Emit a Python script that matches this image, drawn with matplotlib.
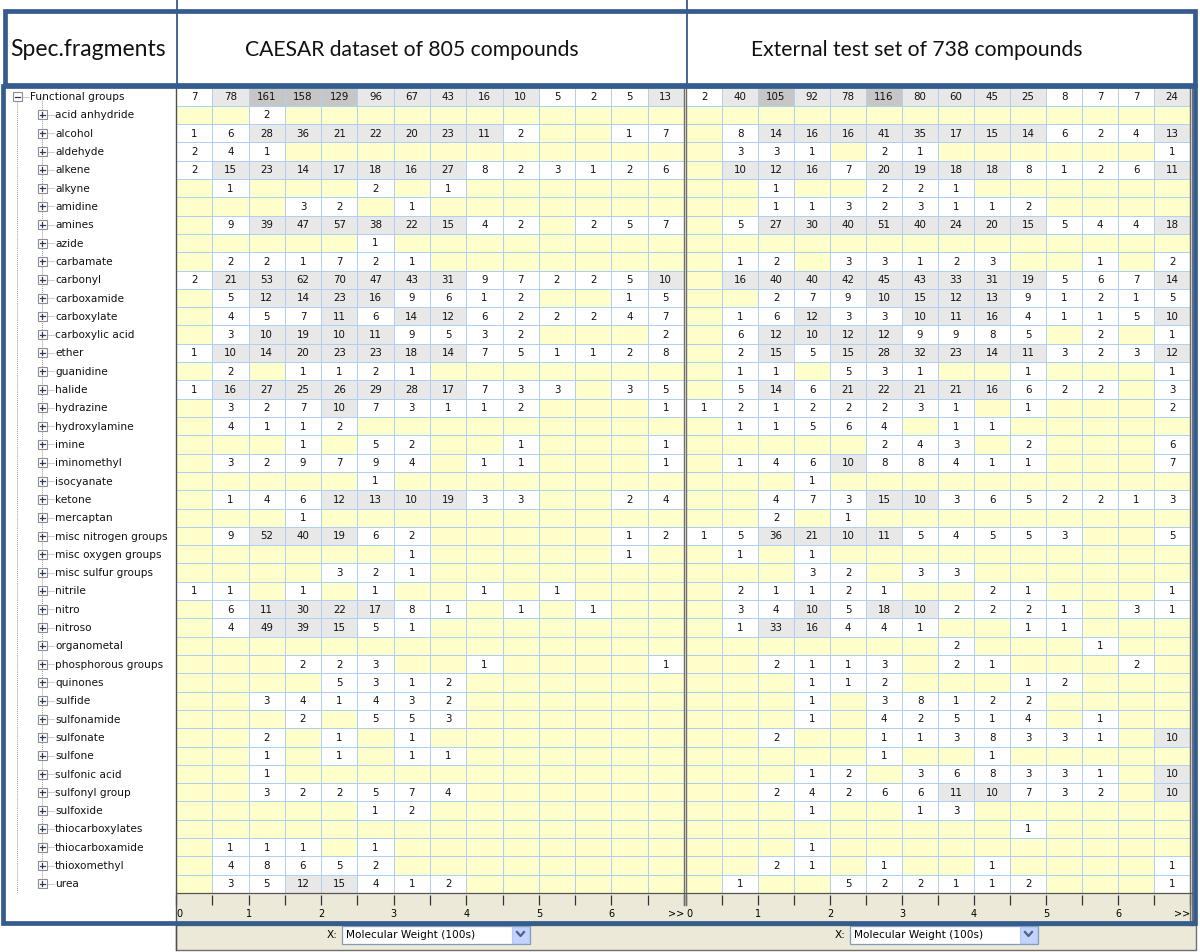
import numpy as np
import matplotlib
matplotlib.use("Agg")
import matplotlib.pyplot as plt
from matplotlib.colors import ListedColormap
from matplotlib.patches import Rectangle

# ---------------- data ----------------
groups = ["Functional groups", "acid anhydride", "alcohol", "aldehyde", "alkene", "alkyne",
          "amidine", "amines", "azide", "carbamate", "carbonyl", "carboxamide", "carboxylate",
          "carboxylic acid", "ether", "guanidine", "halide", "hydrazine", "hydroxylamine",
          "imine", "iminomethyl", "isocyanate", "ketone", "mercaptan", "misc nitrogen groups",
          "misc oxygen groups", "misc sulfur groups", "nitrile", "nitro", "nitroso",
          "organometal", "phosphorous groups", "quinones", "sulfide", "sulfonamide",
          "sulfonate", "sulfone", "sulfonic acid", "sulfonyl group", "sulfoxide",
          "thiocarboxylates", "thiocarboxamide", "thioxomethyl", "urea"]

caesar = [
    [7, 78, 161, 158, 129, 96, 67, 43, 16, 10, 5, 2, 5, 13],
    [0, 0, 2, 0, 0, 0, 0, 0, 0, 0, 0, 0, 0, 0],
    [1, 6, 28, 36, 21, 22, 20, 23, 11, 2, 0, 0, 1, 7],
    [2, 4, 1, 0, 0, 0, 0, 0, 0, 0, 0, 0, 0, 0],
    [2, 15, 23, 14, 17, 18, 16, 27, 8, 2, 3, 1, 2, 6],
    [0, 1, 0, 0, 0, 2, 0, 1, 0, 0, 0, 0, 0, 0],
    [0, 0, 0, 3, 2, 0, 1, 0, 0, 0, 0, 0, 0, 0],
    [0, 9, 39, 47, 57, 38, 22, 15, 4, 2, 0, 2, 5, 7],
    [0, 0, 0, 0, 0, 1, 0, 0, 0, 0, 0, 0, 0, 0],
    [0, 2, 2, 1, 7, 2, 1, 0, 0, 0, 0, 0, 0, 0],
    [2, 21, 53, 62, 70, 47, 43, 31, 9, 7, 2, 2, 5, 10],
    [0, 5, 12, 14, 23, 16, 9, 6, 1, 2, 0, 0, 1, 5],
    [0, 4, 5, 7, 11, 6, 14, 12, 6, 2, 2, 2, 4, 7],
    [0, 3, 10, 19, 10, 11, 9, 5, 3, 2, 0, 0, 0, 2],
    [1, 10, 14, 20, 23, 23, 18, 14, 7, 5, 1, 1, 2, 8],
    [0, 2, 0, 1, 1, 2, 1, 0, 0, 0, 0, 0, 0, 0],
    [1, 16, 27, 25, 26, 29, 28, 17, 7, 3, 3, 0, 3, 5],
    [0, 3, 2, 7, 10, 7, 3, 1, 1, 2, 0, 0, 0, 1],
    [0, 4, 1, 1, 2, 0, 0, 0, 0, 0, 0, 0, 0, 0],
    [0, 0, 0, 1, 0, 5, 2, 0, 0, 1, 0, 0, 0, 1],
    [0, 3, 2, 9, 7, 9, 4, 0, 1, 1, 0, 0, 0, 1],
    [0, 0, 0, 0, 0, 1, 0, 0, 0, 0, 0, 0, 0, 0],
    [0, 1, 4, 6, 12, 13, 10, 19, 3, 3, 0, 0, 2, 4],
    [0, 0, 0, 1, 0, 0, 0, 0, 0, 0, 0, 0, 0, 0],
    [0, 9, 52, 40, 19, 6, 2, 0, 0, 0, 0, 0, 1, 2],
    [0, 0, 0, 0, 0, 0, 1, 0, 0, 0, 0, 0, 1, 0],
    [0, 0, 0, 0, 3, 2, 1, 0, 0, 0, 0, 0, 0, 0],
    [1, 1, 0, 1, 0, 1, 0, 0, 1, 0, 1, 0, 0, 0],
    [0, 6, 11, 30, 22, 17, 8, 1, 0, 1, 0, 1, 0, 0],
    [0, 4, 49, 39, 15, 5, 1, 0, 0, 0, 0, 0, 0, 0],
    [0, 0, 0, 0, 0, 0, 0, 0, 0, 0, 0, 0, 0, 0],
    [0, 0, 0, 2, 2, 3, 0, 0, 1, 0, 0, 0, 0, 1],
    [0, 0, 0, 0, 5, 3, 1, 2, 0, 0, 0, 0, 0, 0],
    [0, 0, 3, 4, 1, 4, 3, 2, 0, 0, 0, 0, 0, 0],
    [0, 0, 0, 2, 0, 5, 5, 3, 0, 0, 0, 0, 0, 0],
    [0, 0, 2, 0, 1, 0, 1, 0, 0, 0, 0, 0, 0, 0],
    [0, 0, 1, 0, 1, 0, 1, 1, 0, 0, 0, 0, 0, 0],
    [0, 0, 1, 0, 0, 0, 0, 0, 0, 0, 0, 0, 0, 0],
    [0, 0, 3, 2, 2, 5, 7, 4, 0, 0, 0, 0, 0, 0],
    [0, 0, 0, 0, 0, 1, 2, 0, 0, 0, 0, 0, 0, 0],
    [0, 0, 0, 0, 0, 0, 0, 0, 0, 0, 0, 0, 0, 0],
    [0, 1, 1, 1, 0, 1, 0, 0, 0, 0, 0, 0, 0, 0],
    [0, 4, 8, 6, 5, 2, 0, 0, 0, 0, 0, 0, 0, 0],
    [0, 3, 5, 12, 15, 4, 1, 2, 0, 0, 0, 0, 0, 0],
]

external = [
    [2, 40, 105, 92, 78, 116, 80, 60, 45, 25, 8, 7, 7, 24],
    [0, 0, 0, 0, 0, 0, 0, 0, 0, 0, 0, 0, 0, 0],
    [0, 8, 14, 16, 16, 41, 35, 17, 15, 14, 6, 2, 4, 13],
    [0, 3, 3, 1, 0, 2, 1, 0, 0, 0, 0, 0, 0, 1],
    [0, 10, 12, 16, 7, 20, 19, 18, 18, 8, 1, 2, 6, 11],
    [0, 0, 1, 0, 0, 2, 2, 1, 0, 0, 0, 0, 0, 0],
    [0, 0, 1, 1, 3, 2, 3, 1, 1, 2, 0, 0, 0, 0],
    [0, 5, 27, 30, 40, 51, 40, 24, 20, 15, 5, 4, 4, 18],
    [0, 0, 0, 0, 0, 0, 0, 0, 0, 0, 0, 0, 0, 0],
    [0, 1, 2, 0, 3, 3, 1, 2, 3, 0, 0, 1, 0, 2],
    [0, 16, 40, 40, 42, 45, 43, 33, 31, 19, 5, 6, 7, 14],
    [0, 0, 2, 7, 9, 10, 15, 12, 13, 9, 1, 2, 1, 5],
    [0, 1, 6, 12, 3, 3, 10, 11, 16, 4, 1, 1, 5, 10],
    [0, 6, 12, 10, 12, 12, 9, 9, 8, 5, 0, 2, 0, 1],
    [0, 2, 15, 5, 15, 28, 32, 23, 14, 11, 3, 2, 3, 12],
    [0, 1, 1, 0, 5, 3, 1, 0, 0, 1, 0, 0, 0, 1],
    [0, 5, 14, 6, 21, 22, 21, 21, 16, 6, 2, 2, 0, 3],
    [1, 2, 1, 2, 2, 2, 3, 1, 0, 1, 0, 0, 0, 2],
    [0, 1, 1, 5, 6, 4, 0, 1, 1, 0, 0, 0, 0, 0],
    [0, 0, 0, 0, 0, 2, 4, 3, 0, 2, 0, 0, 0, 6],
    [0, 1, 4, 6, 10, 8, 8, 4, 1, 1, 0, 0, 0, 7],
    [0, 0, 0, 1, 0, 0, 0, 0, 0, 0, 0, 0, 0, 0],
    [0, 0, 4, 7, 3, 15, 10, 3, 6, 5, 2, 2, 1, 3],
    [0, 0, 2, 0, 1, 0, 0, 0, 0, 0, 0, 0, 0, 0],
    [1, 5, 36, 21, 10, 11, 5, 4, 5, 5, 3, 0, 0, 5],
    [0, 1, 0, 1, 0, 0, 0, 0, 0, 0, 0, 0, 0, 0],
    [0, 0, 0, 3, 2, 0, 3, 3, 0, 0, 0, 0, 0, 0],
    [0, 2, 1, 1, 2, 1, 0, 0, 2, 1, 0, 0, 0, 1],
    [0, 3, 4, 10, 5, 18, 10, 2, 2, 2, 1, 0, 3, 1],
    [0, 1, 33, 16, 4, 4, 1, 0, 0, 1, 1, 0, 0, 0],
    [0, 0, 0, 0, 0, 0, 0, 2, 0, 0, 0, 1, 0, 0],
    [0, 0, 2, 1, 1, 3, 0, 2, 1, 0, 0, 0, 2, 0],
    [0, 0, 0, 1, 1, 2, 0, 0, 0, 1, 2, 0, 0, 0],
    [0, 0, 0, 1, 0, 3, 8, 1, 2, 2, 0, 0, 0, 0],
    [0, 0, 0, 1, 0, 4, 2, 5, 1, 4, 0, 1, 0, 0],
    [0, 0, 2, 0, 0, 1, 1, 3, 8, 3, 3, 1, 0, 10],
    [0, 0, 0, 0, 0, 1, 0, 0, 1, 0, 0, 0, 0, 0],
    [0, 0, 0, 1, 2, 0, 3, 6, 8, 3, 3, 1, 0, 10],
    [0, 0, 2, 4, 2, 6, 6, 11, 10, 7, 3, 2, 0, 10],
    [0, 0, 0, 1, 0, 0, 1, 3, 0, 0, 0, 0, 0, 0],
    [0, 0, 0, 0, 0, 0, 0, 0, 0, 1, 0, 0, 0, 0],
    [0, 0, 0, 1, 0, 0, 0, 0, 0, 0, 0, 0, 0, 0],
    [0, 0, 2, 1, 0, 1, 0, 0, 1, 0, 0, 0, 0, 1],
    [0, 1, 0, 0, 5, 2, 2, 1, 1, 2, 0, 0, 0, 1],
]

mw_ticks = [0, 1, 2, 3, 4, 5, 6, 7]
mw_labels = ["0", "1", "2", "3", "4", "5", "6", ">>"]
bin_width = 0.5
titles = ["Spec.fragments", "CAESAR dataset of 805 compounds", "External test set of 738 compounds"]
x_selector = "Molecular Weight (100s)"

# ---------------- style ----------------
W, H = 1200, 952
BLUE = "#345C8C"
GRIDLINE = "#AFD0F0"
BEIGE = "#ECE9D8"
cell_cmap = ListedColormap(["#FFFFCC", "#FFFFFF", "#E8E8E8", "#C6C6C6"])
NUM_FONT = "DejaVu Sans"

fig = plt.figure(figsize=(W / 100, H / 100), dpi=100)
fig.patch.set_facecolor("white")


def frac(x0, y0, x1, y1):
    return [x0 / W, 1 - y1 / H, (x1 - x0) / W, (y1 - y0) / H]


bg = fig.add_axes([0, 0, 1, 1], zorder=0)
bg.set_xlim(0, W)
bg.set_ylim(H, 0)
bg.axis("off")

grid_top, grid_bot = 87.5, 893.0
n = len(groups)
row_h = (grid_bot - grid_top) / n

# --- label column with tree ---
for i, name in enumerate(groups):
    yc = grid_top + row_h * (i + 0.5)
    if i == 0:
        bx, tx = 17, 30
        sign = "-"
    else:
        bx, tx = 42, 55
        sign = "+"
    bg.add_patch(Rectangle((bx - 4.5, yc - 4.5), 9, 9, facecolor="white",
                           edgecolor="#8E8E8E", lw=0.8, zorder=3))
    bg.plot([bx - 2.5, bx + 2.5], [yc, yc], color="#2B3A5C", lw=0.9, zorder=4)
    if sign == "+":
        bg.plot([bx, bx], [yc - 2.5, yc + 2.5], color="#2B3A5C", lw=0.9, zorder=4)
    bg.plot([bx + 5, tx - 1], [yc, yc], color="#9A9A9A", lw=0.7, ls=(0, (1, 1)), zorder=2)
    bg.text(tx, yc + 0.5, name, ha="left", va="center", fontsize=7.6,
            family="DejaVu Sans", color="#111111")

y_first = grid_top + row_h * 0.5
y_last = grid_top + row_h * (n - 0.5)
bg.plot([42, 42], [y_first, y_last], color="#9A9A9A", lw=0.7, ls=(0, (1, 1)), zorder=2)
bg.plot([17, 17], [y_first + 5, grid_bot], color="#9A9A9A", lw=0.7, ls=(0, (1, 1)), zorder=2)

# --- x-axis strip background & selector panel ---
bg.add_patch(Rectangle((176, grid_bot), 1192 - 176, 925 - grid_bot, facecolor=BEIGE,
                       edgecolor="none", zorder=1))
bg.add_patch(Rectangle((176, 925), 1196 - 176, 25, facecolor=BEIGE,
                       edgecolor="#6F6F6F", lw=1.0, zorder=1))
for x0 in (342, 850):
    bg.text(x0 - 4, 934.5, "X:", ha="right", va="center", fontsize=7.6, family="DejaVu Sans")
    bg.add_patch(Rectangle((x0, 925.5), 188, 18.5, facecolor="white",
                           edgecolor="#7F9DB9", lw=0.9, zorder=2))
    bg.text(x0 + 4, 934.5, x_selector, ha="left", va="center", fontsize=7.6,
            family="DejaVu Sans", zorder=3)
    bg.add_patch(Rectangle((x0 + 170, 926.5), 17, 16.5, facecolor="#C3D3FD",
                           edgecolor="#B5C8F5", lw=0.8, zorder=3))
    bg.plot([x0 + 175, x0 + 178.5, x0 + 182], [932, 936, 932], color="#4D6185", lw=1.6,
            zorder=4)

# --- heatmaps ---
def draw_grid(rect, data):
    ax = fig.add_axes(frac(*rect), zorder=2)
    arr = np.array(data)
    cat = np.select([arr == 0, arr < 10, arr < 100], [0, 1, 2], default=3)
    xe = np.arange(0, len(arr[0]) + 1) * bin_width
    ye = np.arange(0, len(arr) + 1)
    ax.pcolormesh(xe, ye, cat, cmap=cell_cmap, vmin=-0.5, vmax=3.5,
                  edgecolors=GRIDLINE, linewidth=0.55)
    for i, row in enumerate(arr):
        for j, v in enumerate(row):
            if v:
                ax.text(xe[j] + bin_width / 2, i + 0.52, str(v), ha="center", va="center",
                        fontsize=7.4, family=NUM_FONT, color="#111111")
    ax.set_xlim(xe[0], xe[-1])
    ax.set_ylim(len(arr), 0)
    ax.axis("off")
    return ax


def draw_strip(x0, x1):
    ax = fig.add_axes(frac(x0, grid_bot, x1, grid_bot + 2), zorder=2)
    ax.set_facecolor("none")
    ax.set_xlim(mw_ticks[0], mw_ticks[-1])
    ax.set_ylim(0, 1)
    for s in ax.spines.values():
        s.set_visible(False)
    ax.set_yticks([])
    ax.set_xticks(mw_ticks)
    ax.set_xticks(np.arange(mw_ticks[0], mw_ticks[-1] + 0.01, bin_width), minor=True)
    ax.set_xticklabels(mw_labels)
    ax.tick_params(axis="x", which="both", direction="out", length=7, width=0.9,
                   color="#333333", labelsize=7, pad=3)
    labs = ax.get_xticklabels()
    labs[0].set_ha("left")
    labs[-1].set_ha("right")
    for lab in labs:
        lab.set_family("DejaVu Sans")
    return ax


draw_grid((176, grid_top, 684, grid_bot), caesar)
draw_grid((686, grid_top, 1190, grid_bot), external)
draw_strip(176, 684)
draw_strip(686, 1190)

# --- overlay: separators, borders, header ---
top = fig.add_axes([0, 0, 1, 1], zorder=5)
top.set_xlim(0, W)
top.set_ylim(H, 0)
top.axis("off")
top.patch.set_alpha(0)

# grid separators
top.plot([175.5, 175.5], [85, 950], color="#505050", lw=1.0)
for xs in (683.8, 685.8):
    top.plot([xs, xs], [grid_top, 905], color="#6E6E6E", lw=1.0)
for xs in (1189.8, 1191.8):
    top.plot([xs, xs], [grid_top, 925], color="#6E6E6E", lw=1.0)
top.plot([176, 1192], [grid_bot, grid_bot], color="#555555", lw=0.9)

# header box
top.add_patch(Rectangle((0, 10), 1200, 75, facecolor="white", edgecolor="none", zorder=1))
top.add_patch(Rectangle((4.5, 11), 1190.5, 74, facecolor="none", edgecolor=BLUE, lw=3.4,
                        zorder=3))
top.plot([176.5, 176.5], [0, 85], color=BLUE, lw=1.3, zorder=2)
top.plot([686.5, 686.5], [0, 85], color=BLUE, lw=1.3, zorder=2)
top.text(88, 50, titles[0], ha="center", va="center", fontsize=16.5, family="Lato",
         color="#111111", zorder=4)
top.text(412, 50, titles[1], ha="center", va="center", fontsize=15.2, family="Lato",
         color="#111111", zorder=4)
top.text(917, 50, titles[2], ha="center", va="center", fontsize=15.2, family="Lato",
         color="#111111", zorder=4)

# main frame
top.add_patch(Rectangle((2.5, 86), 1192.5, 837, facecolor="none", edgecolor=BLUE, lw=3.4,
                        zorder=3))

fig.savefig("out.png", dpi=100, facecolor="white")
